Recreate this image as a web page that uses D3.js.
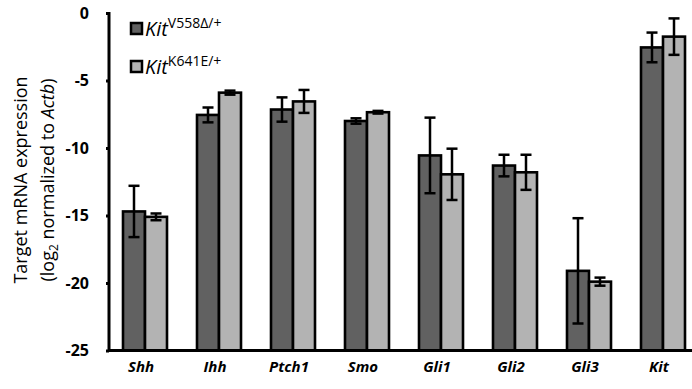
<!DOCTYPE html>
<html>
<head>
<meta charset="utf-8">
<script src="https://cdn.jsdelivr.net/npm/d3@7"></script>
<style>
  body { margin: 0; background: #fff; }
  text { font-family: "Open Sans", "Liberation Sans", sans-serif; fill: #000; }
</style>
</head>
<body>
<div id="chart"></div>
<script>
// gene categories and values
var genes = ["Shh", "Ihh", "Ptch1", "Smo", "Gli1", "Gli2", "Gli3", "Kit"];
var v558Mean = [-14.7, -7.55, -7.15, -8.0, -10.55, -11.3, -19.1, -2.55];
var v558Err  = [1.9, 0.55, 0.9, 0.2, 2.8, 0.8, 3.9, 1.1];
var k641Mean = [-15.1, -5.9, -6.55, -7.35, -11.95, -11.8, -19.9, -1.75];
var k641Err  = [0.25, 0.15, 0.85, 0.1, 1.9, 1.3, 0.3, 1.35];
var yTicks = [0, -5, -10, -15, -20, -25];

var svgWidth = 692;
var svgHeight = 389;

var svg = d3.select("#chart")
  .append("svg")
  .attr("width", svgWidth)
  .attr("height", svgHeight);

var axisX = 109;
var yScale = d3.scaleLinear()
  .domain([0, -25])
  .range([13, 350.5]);

var xScale = d3.scaleBand()
  .domain(genes)
  .range([108, 700])
  .paddingInner(0);

var barW = 22;

var series = [
  {mean: v558Mean, err: v558Err, color: "#616161", off: -barW},
  {mean: k641Mean, err: k641Err, color: "#b3b3b3", off: 0}
];

// bars
series.forEach(function(s) {
  svg.append("g").selectAll("rect")
    .data(genes)
    .enter()
    .append("rect")
    .attr("x", d => xScale(d) + xScale.bandwidth() / 2 + s.off)
    .attr("width", barW)
    .attr("y", (d, i) => yScale(s.mean[i]))
    .attr("height", (d, i) => yScale(-25) - yScale(s.mean[i]))
    .attr("fill", s.color)
    .attr("stroke", "#000")
    .attr("stroke-width", 2.6);
});

// error bars
series.forEach(function(s) {
  var g = svg.append("g").attr("stroke", "#000").attr("stroke-width", 2.5);
  genes.forEach(function(d, i) {
    var cx = xScale(d) + xScale.bandwidth() / 2 + s.off + barW / 2;
    var hi = yScale(s.mean[i] + s.err[i]);
    var lo = yScale(s.mean[i] - s.err[i]);
    g.append("line").attr("x1", cx).attr("x2", cx).attr("y1", hi).attr("y2", lo);
    g.append("line").attr("x1", cx - 5.5).attr("x2", cx + 5.5).attr("y1", hi).attr("y2", hi);
    g.append("line").attr("x1", cx - 5.5).attr("x2", cx + 5.5).attr("y1", lo).attr("y2", lo);
  });
});

// y axis
var leftAxis = d3.axisLeft(yScale)
  .tickValues(yTicks)
  .tickSize(3)
  .tickPadding(17)
  .tickFormat(d => String(d));

var yAxisG = svg.append("g")
  .attr("transform", `translate(${axisX}, 0)`)
  .call(leftAxis);
yAxisG.select(".domain").remove();
yAxisG.selectAll(".tick line").attr("stroke-width", 3);
yAxisG.selectAll(".tick text")
  .attr("font-size", "16px")
  .attr("font-weight", "bold")
  .attr("fill", "#000");

svg.append("line")
  .attr("x1", axisX).attr("x2", axisX)
  .attr("y1", yScale(0) - 1).attr("y2", yScale(-25))
  .attr("stroke", "#000").attr("stroke-width", 3);

// x axis line and labels
svg.append("line")
  .attr("x1", axisX - 1).attr("x2", 692)
  .attr("y1", yScale(-25)).attr("y2", yScale(-25))
  .attr("stroke", "#000").attr("stroke-width", 3);

svg.append("g").selectAll("text")
  .data(genes)
  .enter()
  .append("text")
  .attr("x", d => xScale(d) + xScale.bandwidth() / 2 - 4)
  .attr("y", 372)
  .attr("text-anchor", "middle")
  .attr("font-size", "15px")
  .attr("font-weight", "bold")
  .attr("font-style", "italic")
  .text(d => d);

// y axis title
var yTitle = svg.append("g")
  .attr("transform", "translate(0, 180) rotate(-90)");
yTitle.append("text")
  .attr("x", 0).attr("y", 27)
  .attr("text-anchor", "middle")
  .attr("font-size", "18px")
  .attr("fill", "#000")
  .text("Target mRNA expression");
var t2 = yTitle.append("text")
  .attr("x", 0).attr("y", 54)
  .attr("text-anchor", "middle")
  .attr("font-size", "18px")
  .attr("fill", "#000");
t2.append("tspan").text("(log");
t2.append("tspan").attr("font-size", "12px").attr("dy", 4).text("2");
t2.append("tspan").attr("dy", -4).text(" normalized to ");
t2.append("tspan").attr("font-style", "italic").text("Actb");
t2.append("tspan").text(")");

// legend
var legendLabels = ["V558\u0394/+", "K641E/+"];
legendLabels.forEach(function(lab, i) {
  var y0 = 23 + i * 38;
  svg.append("rect")
    .attr("x", 131).attr("y", y0)
    .attr("width", 11).attr("height", 11)
    .attr("fill", series[i].color)
    .attr("stroke", "#000").attr("stroke-width", 2.5);
  var t = svg.append("text")
    .attr("x", 145).attr("y", y0 + 13)
    .attr("font-size", "20px");
  t.append("tspan").attr("font-style", "italic").text("Kit");
  t.append("tspan").attr("font-size", "14px").attr("dy", -8).text(lab);
});
</script>
</body>
</html>
